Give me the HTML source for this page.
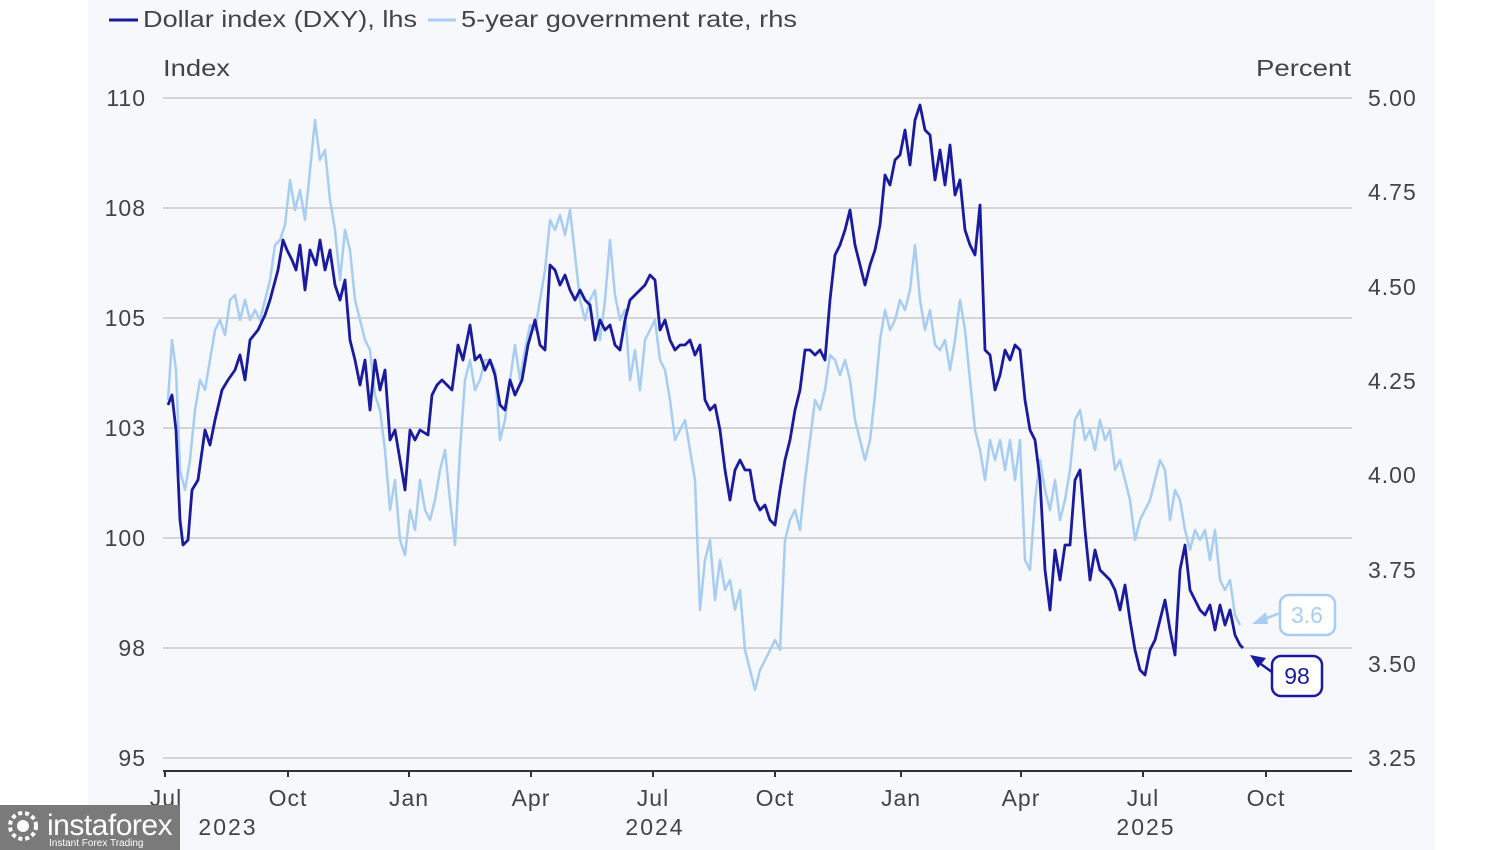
<!DOCTYPE html>
<html><head><meta charset="utf-8"><style>
html,body{margin:0;padding:0;background:#fff;}
svg{display:block;font-family:"Liberation Sans",sans-serif;}
</style></head><body>
<svg width="1500" height="850" viewBox="0 0 1500 850" xmlns="http://www.w3.org/2000/svg">
<rect x="88" y="0" width="1347" height="850" fill="#f6f8fc"/>
<!-- legend -->
<line x1="109" y1="20" x2="138" y2="20" stroke="#1a1a9e" stroke-width="3"/>
<text x="143" y="27" font-size="23" fill="#444" textLength="274" lengthAdjust="spacingAndGlyphs">Dollar index (DXY), lhs</text>
<line x1="428" y1="20" x2="456" y2="20" stroke="#a8cdf2" stroke-width="3"/>
<text x="461" y="27" font-size="23" fill="#444" textLength="336" lengthAdjust="spacingAndGlyphs">5-year government rate, rhs</text>
<text x="163" y="76" font-size="23" fill="#444" textLength="67" lengthAdjust="spacingAndGlyphs">Index</text>
<text x="1256" y="76" font-size="23" fill="#444" textLength="95" lengthAdjust="spacingAndGlyphs">Percent</text>
<!-- grid -->
<g stroke="#c8c8c8" stroke-width="1.5">
<line x1="163" y1="98" x2="1352" y2="98"/><line x1="163" y1="208" x2="1352" y2="208"/>
<line x1="163" y1="318" x2="1352" y2="318"/><line x1="163" y1="428" x2="1352" y2="428"/>
<line x1="163" y1="538" x2="1352" y2="538"/><line x1="163" y1="648" x2="1352" y2="648"/>
<line x1="163" y1="758" x2="1352" y2="758"/>
</g>
<line x1="163" y1="771" x2="1352" y2="771" stroke="#333" stroke-width="2"/>
<g stroke="#333" stroke-width="2">
<line x1="165" y1="771" x2="165" y2="777"/><line x1="288" y1="771" x2="288" y2="777"/><line x1="409" y1="771" x2="409" y2="777"/><line x1="531" y1="771" x2="531" y2="777"/><line x1="653" y1="771" x2="653" y2="777"/><line x1="775" y1="771" x2="775" y2="777"/><line x1="901" y1="771" x2="901" y2="777"/><line x1="1021" y1="771" x2="1021" y2="777"/><line x1="1143" y1="771" x2="1143" y2="777"/><line x1="1266" y1="771" x2="1266" y2="777"/>
</g>
<g font-size="23" fill="#444" text-anchor="end" letter-spacing="1">
<text x="146" y="106">110</text><text x="146" y="216">108</text><text x="146" y="326">105</text><text x="146" y="436">103</text><text x="146" y="546">100</text><text x="146" y="656">98</text><text x="146" y="766">95</text>
</g>
<g font-size="23" fill="#444" letter-spacing="1">
<text x="1368" y="106">5.00</text><text x="1368" y="200">4.75</text><text x="1368" y="295">4.50</text><text x="1368" y="389">4.25</text><text x="1368" y="483">4.00</text><text x="1368" y="578">3.75</text><text x="1368" y="672">3.50</text><text x="1368" y="766">3.25</text>
</g>
<g font-size="23" fill="#444" text-anchor="middle" letter-spacing="1">
<text x="166" y="806">Jul</text><text x="288" y="806">Oct</text><text x="409" y="806">Jan</text><text x="531" y="806">Apr</text><text x="653" y="806">Jul</text><text x="775" y="806">Oct</text><text x="901" y="806">Jan</text><text x="1021" y="806">Apr</text><text x="1143" y="806">Jul</text><text x="1266" y="806">Oct</text>
<text x="228" y="835" letter-spacing="2">2023</text><text x="655" y="835" letter-spacing="2">2024</text><text x="1146" y="835" letter-spacing="2">2025</text>
</g>
<!-- light series -->
<polyline fill="none" stroke="#a8cdf2" stroke-width="2.5" stroke-linejoin="round" points="168,400 172,340 176,370 180,470 185,490 190,460 195,410 200,380 205,390 210,360 215,330 220,320 225,335 230,300 235,295 240,320 245,300 250,320 255,310 260,320 265,300 270,280 275,245 280,240 285,225 290,180 295,210 300,190 305,220 310,170 315,120 320,160 325,150 330,200 335,230 340,280 345,230 350,250 355,300 360,320 365,340 370,350 375,395 380,410 385,450 390,510 395,480 400,540 405,555 410,510 415,530 420,480 425,510 430,520 435,500 440,470 445,450 450,500 455,545 460,450 465,380 470,360 475,390 480,380 485,360 490,360 495,370 500,440 505,420 510,380 515,345 520,380 525,350 530,325 535,330 540,300 545,270 550,220 555,230 560,215 565,235 570,210 575,255 580,300 585,320 590,300 595,290 600,340 605,300 610,240 615,295 620,320 625,310 630,380 635,350 640,390 645,340 650,330 655,320 660,360 665,370 670,400 675,440 680,430 685,420 690,450 695,480 700,610 705,560 710,540 715,600 720,560 725,590 730,580 735,610 740,590 745,650 750,670 755,690 760,670 765,660 770,650 775,640 780,650 785,540 790,520 795,510 800,530 805,480 810,440 815,400 820,410 825,390 830,355 835,360 840,375 845,360 850,380 855,420 860,440 865,460 870,440 875,395 880,340 885,310 890,330 895,320 900,300 905,310 910,290 915,245 920,300 925,330 930,310 935,345 940,350 945,340 950,370 955,340 960,300 965,330 970,380 975,430 980,450 985,480 990,440 995,460 1000,440 1005,470 1010,440 1015,480 1020,440 1025,560 1030,570 1035,500 1040,460 1045,490 1050,510 1055,480 1060,520 1065,500 1070,470 1075,420 1080,410 1085,440 1090,430 1095,450 1100,420 1105,440 1110,430 1115,470 1120,460 1125,480 1130,500 1135,540 1140,520 1145,510 1150,500 1155,480 1160,460 1165,470 1170,520 1175,490 1180,500 1185,530 1190,550 1195,530 1200,540 1205,530 1210,560 1215,530 1220,580 1225,590 1230,580 1235,615 1240,625"/>
<!-- dark series -->
<polyline fill="none" stroke="#1a1a9e" stroke-width="2.8" stroke-linejoin="round" points="168,405 172,395 176,430 180,520 183,545 188,540 192,490 198,480 205,430 210,445 215,420 222,390 228,380 235,370 240,355 245,380 250,340 258,330 265,315 270,300 278,270 283,240 287,250 292,260 296,270 300,245 305,290 310,250 316,265 320,240 325,270 330,250 335,285 340,300 345,280 350,340 355,360 360,385 365,360 370,410 375,360 380,390 385,370 390,440 395,430 400,460 405,490 410,430 415,440 420,430 428,435 432,395 437,385 442,380 447,385 452,390 458,345 463,360 470,325 475,360 480,355 485,370 490,360 495,375 500,405 505,410 510,380 515,395 522,380 528,345 535,320 540,345 545,350 550,265 555,270 560,285 565,275 570,290 575,300 580,290 585,300 590,305 595,340 600,320 605,330 610,325 615,345 620,350 625,320 630,300 635,295 640,290 645,285 650,275 655,280 660,330 665,320 670,340 675,350 680,345 685,345 690,340 695,355 700,345 705,400 710,410 715,405 720,430 725,470 730,500 735,470 740,460 745,470 750,470 755,500 760,510 765,505 770,520 775,525 780,490 785,460 790,440 795,410 800,390 805,350 810,350 815,355 820,350 825,360 830,300 835,255 840,245 845,230 850,210 855,245 860,265 865,285 870,265 875,250 880,225 885,175 890,185 895,160 900,155 905,130 910,165 915,120 920,105 925,130 930,135 935,180 940,150 945,185 950,145 955,195 960,180 965,230 970,245 975,255 980,205 985,350 990,355 995,390 1000,375 1005,350 1010,360 1015,345 1020,350 1025,400 1030,430 1035,440 1040,480 1045,570 1050,610 1055,550 1060,580 1065,545 1070,545 1075,480 1080,470 1085,530 1090,580 1095,550 1100,570 1105,575 1110,580 1115,590 1120,610 1125,585 1130,620 1135,650 1140,670 1145,675 1150,650 1155,640 1160,620 1165,600 1170,630 1175,655 1180,570 1185,545 1190,590 1195,600 1200,610 1205,615 1210,605 1215,630 1220,605 1225,625 1230,610 1235,635 1240,645 1243,648"/>
<!-- callouts -->
<rect x="1280" y="595" width="55" height="40" rx="9" fill="#fff" stroke="#a8cdf2" stroke-width="2.5"/>
<text x="1307" y="623" font-size="23" fill="#a8cdf2" text-anchor="middle">3.6</text>
<line x1="1280" y1="613" x2="1262" y2="620" stroke="#a8cdf2" stroke-width="2.5"/>
<polygon points="1252,624 1266,612 1268,624" fill="#a8cdf2"/>
<rect x="1272" y="656" width="50" height="40" rx="9" fill="#fff" stroke="#1a1a9e" stroke-width="2.5"/>
<text x="1297" y="684" font-size="23" fill="#1a1a9e" text-anchor="middle">98</text>
<line x1="1272" y1="672" x2="1258" y2="662" stroke="#1a1a9e" stroke-width="2.5"/>
<polygon points="1250,655 1266,658 1258,668" fill="#1a1a9e"/>
<!-- watermark -->
<rect x="0" y="805" width="180" height="45" fill="#7a7a7a"/>
<circle cx="23" cy="826" r="13" fill="none" stroke="#fff" stroke-width="4" stroke-dasharray="4 3"/>
<circle cx="23" cy="826" r="6" fill="#fff"/>
<text x="47" y="835" font-size="30" fill="#fff" letter-spacing="-0.5">instaforex</text>
<text x="49" y="846" font-size="10" fill="#fff">Instant Forex Trading</text>
</svg>
</body></html>
